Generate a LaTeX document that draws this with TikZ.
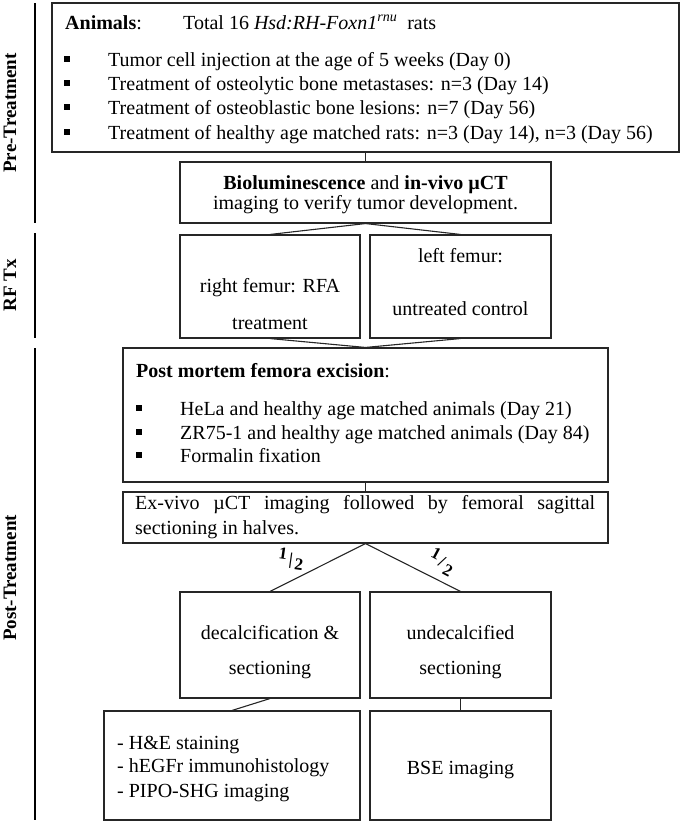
\documentclass[tikz,border=0pt]{standalone}
\usepackage{fontspec}
\setmainfont{Liberation Serif}
\begin{document}
\begin{tikzpicture}[x=1pt,y=-1pt,
  box/.style={draw=black!85, line width=1.1pt, inner sep=0pt},
  conn/.style={draw=black!85, line width=1.1pt},
  bar/.style={draw=black, line width=2.4pt},
  txt/.style={inner sep=0pt, font=\fontsize{20}{24}\selectfont},
  side/.style={inner sep=0pt, rotate=90, font=\fontsize{19}{22}\selectfont\bfseries},
  bul/.style={inner sep=0pt, fill=black, minimum size=5.5pt},
  frac/.style={inner sep=0pt, font=\fontsize{17}{19}\selectfont\bfseries}]
\useasboundingbox (0,0) rectangle (680,822);

% side bars
\coordinate (p1) at (35,3);   \coordinate (p2) at (35,223);
\coordinate (r1) at (35,233); \coordinate (r2) at (35,338);
\coordinate (q1) at (35,348); \coordinate (q2) at (35,820);
\draw[bar] (p1) -- (p2);
\draw[bar] (r1) -- (r2);
\draw[bar] (q1) -- (q2);
\node[side] (lpre) at (10,113) {Pre-Treatment};
\node[side] (lrf) at (10,285) {RF Tx};
\node[side] (lpost) at (10,578) {Post-Treatment};

% boxes
\node[box, minimum width=627pt, minimum height=149pt] (animals) at (365.5,77.5) {};
\node[box, minimum width=371pt, minimum height=61pt] (bio) at (365.5,192.5) {};
\node[box, minimum width=180pt, minimum height=103pt] (right) at (270,286.5) {};
\node[box, minimum width=181pt, minimum height=103pt] (left) at (460.5,286.5) {};
\node[box, minimum width=485pt, minimum height=134pt] (pm) at (365.5,415) {};
\node[box, minimum width=485pt, minimum height=51pt] (ex) at (365.5,517.5) {};
\node[box, minimum width=180pt, minimum height=106pt] (dec) at (270,645) {};
\node[box, minimum width=181pt, minimum height=106pt] (undec) at (460.5,645) {};
\node[box, minimum width=256pt, minimum height=109pt] (stain) at (232,765.5) {};
\node[box, minimum width=181pt, minimum height=109pt] (bse) at (460.5,765.5) {};

% connectors
\draw[conn] (animals.south) -- (bio.north);
\draw[conn] (bio.south) -- (right.north);
\draw[conn] (bio.south) -- (left.north);
\draw[conn] (right.south) -- (pm.north);
\draw[conn] (left.south) -- (pm.north);
\draw[conn] (pm.south) -- (ex.north);
\draw[conn] (ex.south) -- (dec.north);
\draw[conn] (ex.south) -- (undec.north);
\draw[conn] (dec.south) -- (stain.north);
\draw[conn] (undec.south) -- (bse.north);

% fraction labels
\node[frac, rotate=-8] (fl) at (291,559) {\raisebox{4pt}{1}\kern2.5pt|\kern2.5pt\raisebox{-4pt}{2}};
\node[frac, rotate=-28] (fr) at (442,562) {\raisebox{5pt}{1}\kern2.5pt/\kern2.5pt\raisebox{-5pt}{2}};

% Animals box text
\node[txt, anchor=base west] (a0) at (65,29) {\textbf{Animals}:};
\node[txt, anchor=base west] (a0b) at (183,29) {Total 16 \textit{Hsd:RH-Foxn1}\textsuperscript{\textit{rnu}}\ \ rats};
\node[bul] (b1) at (67,59) {};
\node[bul] (b2) at (67,83) {};
\node[bul] (b3) at (67,107) {};
\node[bul] (b4) at (67,132) {};
\node[txt, anchor=base west] (a1) at (108,66) {Tumor cell injection at the age of 5 weeks (Day 0)};
\node[txt, anchor=base west] (a2) at (108,90) {Treatment of osteolytic bone metastases: n=3 (Day 14)};
\node[txt, anchor=base west] (a3) at (108,114) {Treatment of osteoblastic bone lesions: n=7 (Day 56)};
\node[txt, anchor=base west] (a4) at (108,139) {Treatment of healthy age matched rats: n=3 (Day 14), n=3 (Day 56)};

% bio box text
\node[txt, anchor=base] (bt1) at (365.5,189) {\textbf{Bioluminescence} and \textbf{in-vivo µCT}};
\node[txt, anchor=base] (bt2) at (365.5,209) {imaging to verify tumor development.};

% RF boxes text
\node[txt, anchor=base] (rt1) at (270,292) {right femur: RFA};
\node[txt, anchor=base] (rt2) at (270,329) {treatment};
\node[txt, anchor=base] (lt1) at (460.5,262) {left femur:};
\node[txt, anchor=base] (lt2) at (460.5,315) {untreated control};

% post mortem text
\node[txt, anchor=base west] (pt0) at (136,377) {\textbf{Post mortem femora excision}:};
\node[bul] (c1) at (139,408) {};
\node[bul] (c2) at (139,432) {};
\node[bul] (c3) at (139,455) {};
\node[txt, anchor=base west] (pt1) at (180,415) {HeLa and healthy age matched animals (Day 21)};
\node[txt, anchor=base west] (pt2) at (180,439) {ZR75-1 and healthy age matched animals (Day 84)};
\node[txt, anchor=base west] (pt3) at (180,462) {Formalin fixation};

% ex-vivo text
\node[txt, anchor=base west] (et1) at (135,509) {\makebox[460pt][s]{Ex-vivo µCT imaging followed by femoral sagittal}};
\node[txt, anchor=base west] (et2) at (135,534) {sectioning in halves.};

% dec / undec text
\node[txt, anchor=base] (dt1) at (270,639) {decalcification \&};
\node[txt, anchor=base] (dt2) at (270,674) {sectioning};
\node[txt, anchor=base] (ut1) at (460.5,639) {undecalcified};
\node[txt, anchor=base] (ut2) at (460.5,674) {sectioning};

% bottom boxes text
\node[txt, anchor=base west] (st1) at (117,749) {- H\&E staining};
\node[txt, anchor=base west] (st2) at (117,772) {- hEGFr immunohistology};
\node[txt, anchor=base west] (st3) at (117,797) {- PIPO-SHG imaging};
\node[txt, anchor=base] (bs) at (460.5,774) {BSE imaging};
\end{tikzpicture}
\end{document}
